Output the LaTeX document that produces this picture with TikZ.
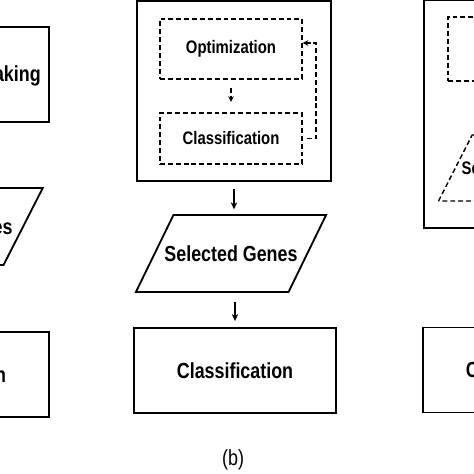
\documentclass[tikz,border=0pt]{standalone}
\usepackage{fontspec}
\usetikzlibrary{shapes.geometric,arrows.meta}
\newfontfamily\lblfont[FakeStretch=0.82]{Liberation Sans}
\begin{document}
\begin{tikzpicture}[x = 0.025cm, y = -0.025cm,
  solidbox/.style = {draw, line width = 1.3pt, font = \lblfont\bfseries\fontsize{15.5}{18}\selectfont},
  dashbox/.style = {draw, line width = 1pt, dash pattern = on 3.5pt off 2.1pt, font = \lblfont\bfseries\fontsize{12.9}{15}\selectfont},
  genes/.style = {trapezium, trapezium left angle = 64, trapezium right angle = 116, inner xsep = -6.4pt},
  flow/.style = {line width = .8pt, -{Stealth[length = 5pt, width = 4.5pt]}},
  dashflow/.style = {line width = 1pt, dash pattern = on 3.5pt off 2.1pt, -{Stealth[length = 4pt, width = 4pt]}}]
\useasboundingbox (0,0) rectangle (474,474);
\clip (0,0) rectangle (474,474);
% left panel
\node [solidbox, minimum width = 5.05cm, minimum height = 2.375cm] (rank) at (-52,74.5) {};
\node [anchor = east, inner sep = 0pt, font = \lblfont\bfseries\fontsize{15.5}{18}\selectfont] (ranktxt) at (41,76) {aking};
\node [solidbox, genes, trapezium left angle = 63, trapezium right angle = 117, text height = 11.3pt, text depth = 0pt, inner ysep = 21.7pt] (selL) at (-54,226.5) {Selected Genes};
\node [solidbox, minimum width = 5.05cm, minimum height = 2.125cm] (clsL) at (-52,374.5) {Classification};
% middle panel (b)
\node [solidbox, minimum width = 4.85cm, minimum height = 4.5cm] (wrapper) at (234,91) {};
\node [dashbox, minimum width = 3.55cm, minimum height = 1.5cm] (opt) at (231,49) {Optimization};
\node [dashbox, minimum width = 3.55cm, minimum height = 1.275cm] (clsin) at (231,138.5) {Classification};
\coordinate (loop) at (316,43);
\draw [dashflow, shorten <= 2mm, shorten >= 2.6mm] (opt.south) -- (clsin.north);
\draw [dashflow, shorten <= 1mm] (clsin.east) -| (loop) -- (loop -| opt.east);
\node [solidbox, genes, text height = 11.3pt, text depth = 0pt, inner ysep = 21.7pt] (sel) at (231,253.5) {Selected Genes};
\node [solidbox, minimum width = 5.05cm, minimum height = 2.125cm] (cls) at (235,370.5) {Classification};
\draw [flow, shorten <= 1.8mm, shorten >= 1.2mm] (wrapper.south) -- (wrapper.south |- sel.north);
\draw [flow, shorten <= 2.2mm, shorten >= 1.5mm] (cls.north |- sel.south) -- (cls.north);
\node [font = \lblfont\fontsize{15.6}{18}\selectfont] (tag) at (233,460) {(b)};
% right panel
\node [solidbox, minimum width = 4.85cm, minimum height = 5.7cm] (wrapR) at (521,114) {};
\node [dashbox, minimum width = 3.55cm, minimum height = 1.6cm] (dbox) at (519,49) {};
\node [dashbox, genes, trapezium left angle = 63, trapezium right angle = 117, inner xsep = -7.5pt, text height = 9.5pt, text depth = 0pt, inner ysep = 18.7pt] (selR) at (517,168) {Selected Genes};
\node [solidbox, minimum width = 5.05cm, minimum height = 2.125cm] (clsR) at (524,370) {Classification};
\end{tikzpicture}
\end{document}
